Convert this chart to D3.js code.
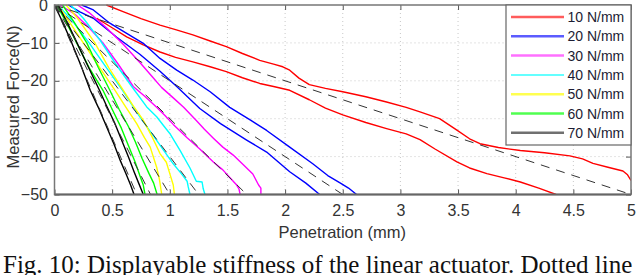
<!DOCTYPE html>
<html>
<head>
<meta charset="utf-8">
<script src="https://cdn.jsdelivr.net/npm/d3@7/dist/d3.min.js"></script>
<style>
  body { margin: 0; background: #fff; }
  svg { display: block; }
</style>
</head>
<body>
<div class="chart"></div>
<script>
// legend names, one per stiffness
const categories = ["10 N/mm", "20 N/mm", "30 N/mm", "40 N/mm", "50 N/mm", "60 N/mm", "70 N/mm"];
// dashed reference lines: from (0,0) to (refEndX, -50)
const refEndX = [5, 2.5, 1.667, 1.25, 1.0, 0.833, 0.714];
const xTicks = [0, 0.5, 1, 1.5, 2, 2.5, 3, 3.5, 4, 4.5, 5];
const yTicks = [0, -10, -20, -30, -40, -50];

// measured curves [penetration mm, force N], two per stiffness
const red_upper = [[0.45,0],[0.6,-1.8],[0.75,-3.6],[0.915,-5.3],[1.05,-6.5],[1.2,-7.9],[1.35,-9.5],[1.49,-11.0],[1.63,-12.8],[1.78,-14.6],[1.9,-15.6],[1.98,-16.3],[2.04,-17.2],[2.12,-19.3],[2.21,-21.0],[2.35,-22.0],[2.5,-22.9],[2.7,-24.2],[2.88,-25.6],[3.05,-27.0],[3.17,-28.2],[3.34,-30.0],[3.49,-33.0],[3.6,-35.3],[3.69,-36.6],[3.85,-37.6],[4.04,-38.4],[4.25,-39.0],[4.47,-39.8],[4.58,-40.6],[4.67,-41.8],[4.8,-42.8],[4.93,-43.8],[4.97,-44.8],[5.0,-46.3]];
const red_lower = [[0.366,-3.5],[0.5,-6.0],[0.626,-8.4],[0.77,-10.5],[0.915,-12.4],[1.05,-13.8],[1.2,-15.0],[1.35,-16.3],[1.49,-17.6],[1.63,-19.2],[1.78,-20.7],[1.9,-21.5],[2.04,-22.5],[2.21,-25.0],[2.35,-27.2],[2.5,-29.0],[2.7,-31.0],[2.88,-32.6],[3.05,-34.0],[3.17,-35.5],[3.3,-38.0],[3.49,-41.4],[3.6,-43.0],[3.75,-44.5],[3.9,-45.6],[4.04,-46.7],[4.2,-48.3],[4.35,-50]];
const blue_upper = [[0.236,0],[0.337,-1.3],[0.48,-4.8],[0.626,-7.5],[0.77,-10.1],[0.915,-14.1],[1.06,-17.2],[1.2,-19.8],[1.35,-22.9],[1.52,-27.0],[1.7,-30.4],[1.84,-33.1],[2.04,-37.5],[2.24,-41.9],[2.37,-45.0],[2.48,-47.0],[2.55,-48.3],[2.62,-50]];
const blue_lower = [[0.12,0],[0.22,-1.8],[0.337,-3.5],[0.54,-8.5],[0.74,-13.0],[0.915,-17.5],[1.06,-21.5],[1.26,-27.3],[1.44,-31.3],[1.67,-35.7],[1.84,-38.8],[2.04,-44.0],[2.18,-47.0],[2.3,-50]];
const magenta_upper = [[0.2,0],[0.3,-2.0],[0.45,-6.0],[0.6,-10.5],[0.75,-15.5],[0.85,-19.0],[0.93,-21.8],[1.03,-24.5],[1.12,-27.0],[1.23,-30.5],[1.3,-32.8],[1.38,-35.2],[1.46,-37.5],[1.55,-39.6],[1.64,-42.2],[1.72,-44.6],[1.77,-47.5],[1.79,-48.3],[1.79,-50]];
const magenta_lower = [[0.05,0],[0.18,-2.5],[0.3,-6.0],[0.42,-10.0],[0.55,-15.5],[0.683,-21.5],[0.78,-24.0],[0.886,-27.0],[0.96,-29.2],[1.03,-31.5],[1.15,-35.0],[1.26,-38.0],[1.38,-41.5],[1.46,-43.5],[1.52,-45.5],[1.58,-47.5],[1.6,-48.5],[1.61,-50]];
const cyan_upper = [[0.14,0],[0.25,-3.5],[0.4,-9.5],[0.53,-15.5],[0.67,-21.5],[0.8,-26.9],[0.886,-29.5],[0.95,-32.0],[1.0,-33.9],[1.09,-38.4],[1.175,-43.0],[1.23,-46.5],[1.28,-46.7],[1.29,-48.5],[1.305,-50]];
const cyan_lower = [[0.03,0],[0.15,-4.0],[0.3,-10.0],[0.45,-16.5],[0.59,-22.5],[0.74,-29.5],[0.886,-35.7],[0.95,-38.5],[1.03,-41.9],[1.1,-44.5],[1.15,-46.5],[1.16,-48.0],[1.175,-50]];
const yellow_upper = [[0.1,0],[0.2,-3.5],[0.35,-10.0],[0.47,-16.5],[0.597,-22.5],[0.68,-26.5],[0.77,-30.4],[0.85,-35.0],[0.915,-39.2],[0.97,-41.5],[1.0,-44.5],[1.03,-47.5],[1.04,-50]];
const yellow_lower = [[0.03,0],[0.13,-4.5],[0.25,-10.0],[0.38,-16.0],[0.525,-22.5],[0.62,-27.0],[0.713,-31.3],[0.78,-35.0],[0.83,-37.5],[0.886,-42.8],[0.91,-46.0],[0.93,-50]];
const green_upper = [[0.07,0],[0.17,-4.5],[0.28,-10.0],[0.38,-16.5],[0.48,-22.5],[0.56,-27.5],[0.64,-32.0],[0.7,-36.0],[0.76,-40.5],[0.82,-44.5],[0.86,-47.0],[0.89,-50]];
const green_lower = [[0.02,0],[0.1,-4.5],[0.2,-10.5],[0.3,-16.5],[0.42,-22.5],[0.5,-27.5],[0.58,-32.5],[0.64,-37.0],[0.7,-41.5],[0.74,-45.0],[0.77,-47.5],[0.785,-50]];
const black_upper = [[0.03,0],[0.1,-4.0],[0.18,-9.0],[0.28,-15.5],[0.39,-22.5],[0.45,-26.5],[0.52,-31.0],[0.58,-35.5],[0.64,-40.0],[0.69,-44.0],[0.73,-47.0],[0.77,-50]];
const black_lower = [[0.0,0],[0.07,-4.5],[0.15,-10.0],[0.23,-16.0],[0.31,-22.5],[0.38,-27.0],[0.45,-32.0],[0.52,-37.0],[0.57,-41.0],[0.62,-44.5],[0.66,-47.5],[0.69,-50]];

const upperCurves = [red_upper, blue_upper, magenta_upper, cyan_upper, yellow_upper, green_upper, black_upper];
const lowerCurves = [red_lower, blue_lower, magenta_lower, cyan_lower, yellow_lower, green_lower, black_lower];

const lineColors = ["#ff0000", "#0000ff", "#ff00ff", "#00ffff", "#ffff00", "#00ff00", "#000000"];
const legendColors = ["#ff5c5c", "#5c5cff", "#ff70ff", "#30ffff", "#ffff50", "#50ff50", "#707070"];

const width = 640, height = 275;
const plotLeft = 54.5, plotRight = 631, plotTop = 5, plotBottom = 194.5;

const x = d3.scaleLinear().domain([0, 5]).range([plotLeft, plotRight]);
const y = d3.scaleLinear().domain([0, -50]).range([plotTop, plotBottom]);

const svg = d3.select(".chart").append("svg")
    .attr("width", width)
    .attr("height", height);

// dotted grid
const grid = svg.append("g");
grid.selectAll(".gx")
    .data(xTicks.slice(1, -1))
    .enter().append("line")
    .attr("x1", d => x(d)).attr("x2", d => x(d))
    .attr("y1", plotTop).attr("y2", plotBottom)
    .attr("stroke", "#c8c8c8").attr("stroke-dasharray", "1,3");
grid.selectAll(".gy")
    .data(yTicks.slice(1, -1))
    .enter().append("line")
    .attr("x1", plotLeft).attr("x2", plotRight)
    .attr("y1", d => y(d)).attr("y2", d => y(d))
    .attr("stroke", "#c8c8c8").attr("stroke-dasharray", "1,3");

svg.append("clipPath").attr("id", "plot")
    .append("rect")
    .attr("x", plotLeft).attr("y", plotTop - 1)
    .attr("width", plotRight - plotLeft).attr("height", plotBottom - plotTop + 1);

const line = d3.line()
    .x(d => x(d[0]))
    .y(d => y(d[1]));

const curves = svg.append("g").attr("clip-path", "url(#plot)");
lineColors.forEach(function (c, i) {
    [upperCurves[i], lowerCurves[i]].forEach(function (pts) {
        curves.append("path")
            .datum(pts)
            .attr("d", line)
            .attr("fill", "none")
            .attr("stroke", c)
            .attr("stroke-width", 1.4)
            .attr("stroke-linejoin", "round");
    });
});

// dashed reference lines
curves.selectAll(".ref")
    .data(refEndX)
    .enter().append("path")
    .attr("d", d => line([[0, 0], [d, -50]]))
    .attr("fill", "none")
    .attr("stroke", "#333")
    .attr("stroke-width", 1)
    .attr("stroke-dasharray", "9,7");

// axes with inward ticks
const tickFont = "Liberation Sans, Arial, sans-serif";

const xAxis = svg.append("g")
    .attr("transform", "translate(0," + plotBottom + ")")
    .call(d3.axisBottom(x).tickValues(xTicks).tickSize(-5).tickPadding(10)
        .tickFormat(d3.format("")));
const yAxis = svg.append("g")
    .attr("transform", "translate(" + plotLeft + ",0)")
    .call(d3.axisLeft(y).tickValues(yTicks).tickSize(-5).tickPadding(6.5));
svg.append("g")
    .attr("transform", "translate(0," + plotTop + ")")
    .call(d3.axisTop(x).tickValues(xTicks).tickSize(-5).tickFormat(""));
svg.append("g")
    .attr("transform", "translate(" + plotRight + ",0)")
    .call(d3.axisRight(y).tickValues(yTicks).tickSize(-5).tickFormat(""));

svg.selectAll(".domain").remove();
svg.selectAll(".tick line").attr("stroke", "#555");
[xAxis, yAxis].forEach(function (a) {
    a.selectAll("text")
        .style("font-family", tickFont)
        .style("font-size", "16px")
        .attr("fill", "#333");
});

// frame
svg.append("rect")
    .attr("x", plotLeft).attr("y", plotTop)
    .attr("width", plotRight - plotLeft).attr("height", plotBottom - plotTop)
    .attr("fill", "none")
    .attr("stroke", "#777")
    .attr("stroke-width", 1.5);
svg.append("line")
    .attr("x1", plotLeft).attr("x2", plotRight)
    .attr("y1", plotBottom).attr("y2", plotBottom)
    .attr("stroke", "#666").attr("stroke-width", 2);

// axis titles
svg.append("text")
    .attr("x", (plotLeft + plotRight) / 2 - 0.5)
    .attr("y", 238)
    .attr("text-anchor", "middle")
    .style("font-family", tickFont)
    .style("font-size", "16.5px")
    .attr("fill", "#333")
    .text("Penetration (mm)");
svg.append("text")
    .attr("transform", "translate(19,97) rotate(-90)")
    .attr("text-anchor", "middle")
    .style("font-family", tickFont)
    .style("font-size", "16.5px")
    .attr("fill", "#333")
    .text("Measured Force(N)");

// legend
const legend = svg.append("g");
legend.append("rect")
    .attr("x", 506).attr("y", plotTop)
    .attr("width", plotRight - 506).attr("height", 140)
    .attr("fill", "#fff")
    .attr("stroke", "#666")
    .attr("stroke-width", 1.2);
const item = legend.selectAll(".item")
    .data(categories)
    .enter().append("g")
    .attr("transform", (d, i) => "translate(0," + (17 + i * 19.3) + ")");
item.append("line")
    .attr("x1", 511).attr("x2", 564)
    .attr("stroke", (d, i) => legendColors[i])
    .attr("stroke-width", (d, i) => i === 3 ? 1.5 : 2.5);
item.append("text")
    .attr("x", 567.5)
    .attr("dy", "0.36em")
    .style("font-family", tickFont)
    .style("font-size", "14px")
    .attr("fill", "#1c1c33")
    .text(d => d);

// caption below the figure, cut by the bottom edge as in the scan
svg.append("text")
    .attr("x", 3)
    .attr("y", 273)
    .style("font-family", "Liberation Serif, Times New Roman, serif")
    .style("font-size", "25px")
    .attr("fill", "#111")
    .text("Fig. 10: Displayable stiffness of the linear actuator. Dotted line");
</script>
</body>
</html>
